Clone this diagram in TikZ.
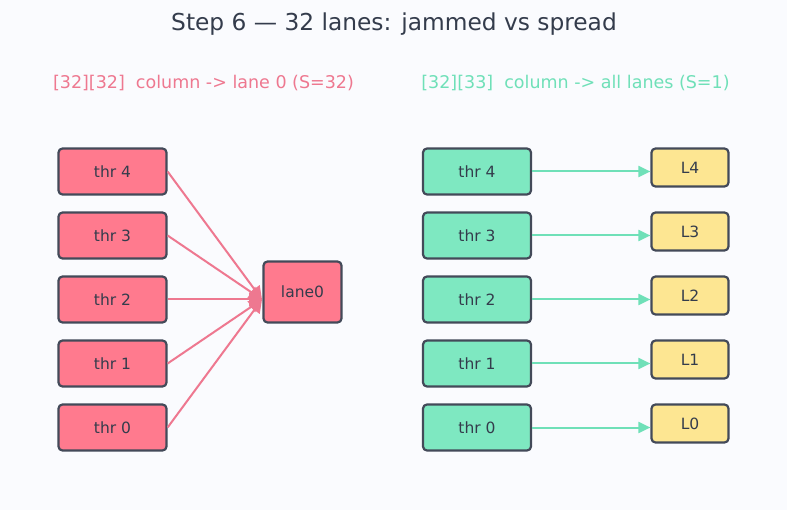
\documentclass[tikz,border=0pt]{standalone}
\usepackage{fontspec}
\setmainfont{DejaVu Sans}
\usetikzlibrary{arrows.meta}
\definecolor{bgc}{HTML}{FAFBFE}
\definecolor{inkc}{HTML}{343C4C}
\definecolor{edgec}{HTML}{434A59}
\definecolor{pinkf}{HTML}{FF7A8E}
\definecolor{pinkl}{HTML}{EE7890}
\definecolor{greenf}{HTML}{7EE8C1}
\definecolor{greenl}{HTML}{6FE0B8}
\definecolor{yellowf}{HTML}{FDE692}
\tikzset{
  box/.style={draw=edgec, line width=2.2pt, rounded corners=4pt, inner sep=0pt,
    text=inkc, font=\fontsize{15.5}{18}\selectfont},
  thrbox/.style={box, minimum width=108pt, minimum height=46pt},
  redthr/.style={thrbox, fill=pinkf},
  grnthr/.style={thrbox, fill=greenf},
  lanebox/.style={box, fill=yellowf, minimum width=77pt, minimum height=38pt},
  jam/.style={color=pinkl, line width=2pt, -{Triangle[length=13pt,width=13pt]}},
  spread/.style={color=greenl, line width=2pt, -{Triangle[length=12pt,width=11pt]}},
  heading/.style={font=\fontsize{17.5}{21}\selectfont, anchor=center}
}
\begin{document}
\begin{tikzpicture}[x=1pt, y=-1pt]
  \fill[bgc] (0,0) rectangle (787,510);
  \useasboundingbox (0,0) rectangle (787,510);

  \node[text=inkc, font=\fontsize{23.3}{27}\selectfont] (title) at (394,24)
    {Step 6 — 32 lanes: jammed vs spread};
  \node[heading, text=pinkl] (hl) at (203.5,83) {[32][32]\ \ column -> lane 0 (S=32)};
  \node[heading, text=greenl] (hr) at (575.5,83) {[32][33]\ \ column -> all lanes (S=1)};

  % left: every thread hits the same lane
  \node[box, fill=pinkf, minimum width=78pt, minimum height=61pt] (lane0) at (302.5,292) {lane0};
  \coordinate (hit) at (262,299.5);
  \foreach \i/\y in {4/171.5, 3/235.5, 2/299.5, 1/363.5, 0/427.5} {
    \node[redthr] (a\i) at (112.5,\y) {thr \i};
    \draw[jam] (a\i.east) -- (hit);
  }

  % right: each thread gets its own lane
  \foreach \i/\y in {4/171.5, 3/235.5, 2/299.5, 1/363.5, 0/427.5} {
    \node[grnthr] (b\i) at (477,\y) {thr \i};
    \node[lanebox] (L\i) at (690,\y-4) {L\i};
    \draw[spread] (b\i.east) -- (b\i.east -| L\i.west);
  }
\end{tikzpicture}
\end{document}
